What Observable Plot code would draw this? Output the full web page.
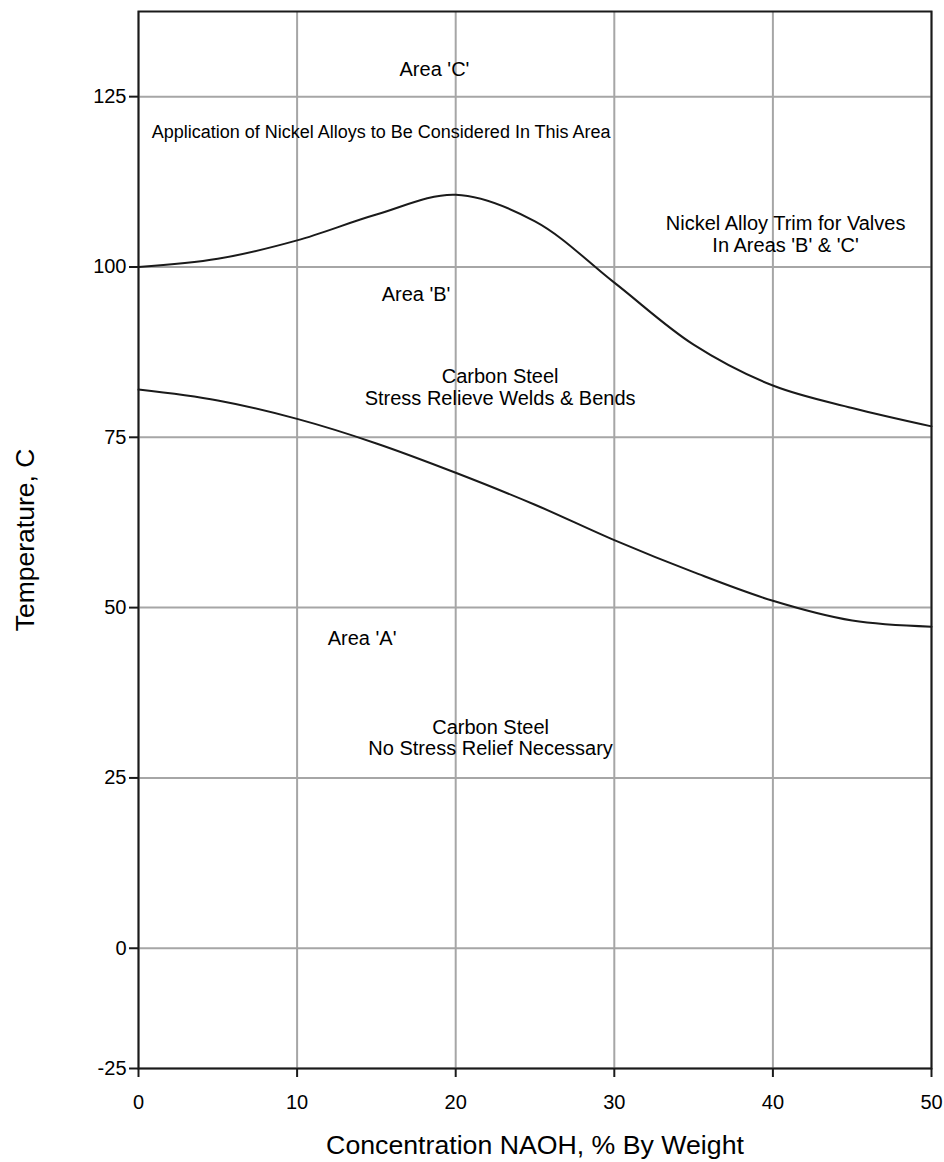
<!DOCTYPE html>
<html>
<head>
<meta charset="utf-8">
<script src="https://cdn.jsdelivr.net/npm/d3@7"></script>
<script src="https://cdn.jsdelivr.net/npm/@observablehq/plot@0.6"></script>
<style>
  html, body { margin: 0; padding: 0; background: #fff; }
  #chart svg { display: block; }
</style>
</head>
<body>
<div id="chart"></div>
<script>
// Concentration NaOH (% by weight)
const conc = [0, 5, 10, 15, 20, 25, 30, 35, 40, 45, 50];
// Upper boundary (Area B / Area C), °C
const upperTemp = [100, 101.2, 103.9, 107.7, 110.6, 106.7, 97.7, 88.6, 82.6, 79.3, 76.6];
// Lower boundary (Area A / Area B), °C
const lowerTemp = [82.0, 80.4, 77.7, 74.1, 69.8, 65.1, 59.9, 55.2, 51.0, 48.1, 47.2];

const xTicks = [0, 10, 20, 30, 40, 50];
const xTickLabels = ["0", "10", "20", "30", "40", "50"];
const yTicks = [-25, 0, 25, 50, 75, 100, 125];
const yTickLabels = ["-25", "0", "25", "50", "75", "100", "125"];

const annotations = [
  {x: 18.66, y: 129.0, text: "Area 'C'", size: 20},
  {x: 15.3, y: 119.9, text: "Application of Nickel Alloys to Be Considered In This Area", size: 18},
  {x: 40.8, y: 104.8, text: "Nickel Alloy Trim for Valves\nIn Areas 'B' & 'C'", size: 20},
  {x: 17.5, y: 96.0, text: "Area 'B'", size: 20},
  {x: 22.8, y: 82.4, text: "Carbon Steel\nStress Relieve Welds & Bends", size: 20},
  {x: 14.1, y: 45.6, text: "Area 'A'", size: 20},
  {x: 22.2, y: 30.9, text: "Carbon Steel\nNo Stress Relief Necessary", size: 20}
];

const xLabel = "Concentration NAOH, % By Weight";
const yLabel = "Temperature, C";

const upper = conc.map((c, i) => ({x: c, y: upperTemp[i]}));
const lower = conc.map((c, i) => ({x: c, y: lowerTemp[i]}));

const W = 944, H = 1162;
const mt = 11, mb = 94, ml = 138, mr = 13;
// In the source chart the band below 0 (down to the -25 tick) is drawn compressed
const negSquash = 0.706;

const chart = Plot.plot({
  width: W,
  height: H,
  marginTop: mt,
  marginBottom: mb,
  marginLeft: ml,
  marginRight: mr,
  style: {fontFamily: "'Liberation Sans', Arial, sans-serif", fontSize: "20px", color: "#000", background: "#fff"},
  x: {domain: [0, 50]},
  y: {type: "linear", transform: v => (v < 0 ? v * negSquash : v), domain: [-25 * negSquash, 137.5]},
  marks: [
    Plot.gridX(xTicks, {stroke: "#a6a6a6", strokeOpacity: 1, strokeWidth: 2}),
    Plot.gridY(yTicks, {stroke: "#a6a6a6", strokeOpacity: 1, strokeWidth: 2}),
    Plot.line(upper, {x: "x", y: "y", curve: "catmull-rom", stroke: "#1a1a1a", strokeWidth: 2}),
    Plot.line(lower, {x: "x", y: "y", curve: "catmull-rom", stroke: "#1a1a1a", strokeWidth: 2}),
    ...annotations.map(a => Plot.text([a], {
      x: "x", y: "y", text: "text", fontSize: a.size, lineAnchor: "middle",
      textAnchor: "middle", lineHeight: 1.08, fill: "#000"
    })),
    Plot.frame({stroke: "#1a1a1a", strokeWidth: 2}),
    Plot.axisX(xTicks, {
      tickSize: 9, tickPadding: 17, strokeWidth: 2, stroke: "#1a1a1a",
      tickFormat: (d, i) => xTickLabels[i], fontSize: 20, label: null
    }),
    Plot.axisY(yTicks, {
      tickSize: 9, tickPadding: 3, strokeWidth: 2, stroke: "#1a1a1a",
      tickFormat: (d, i) => yTickLabels[i], fontSize: 20, label: null
    }),
    Plot.text([xLabel], {
      frameAnchor: "bottom", dy: 77, text: d => d, fontSize: 26.7,
      lineAnchor: "middle", textAnchor: "middle", fill: "#000"
    }),
    Plot.text([yLabel], {
      frameAnchor: "left", dx: -113, rotate: -90, text: d => d, fontSize: 26.5,
      lineAnchor: "middle", textAnchor: "middle", fill: "#000"
    })
  ]
});

document.getElementById("chart").appendChild(chart);
</script>
</body>
</html>
